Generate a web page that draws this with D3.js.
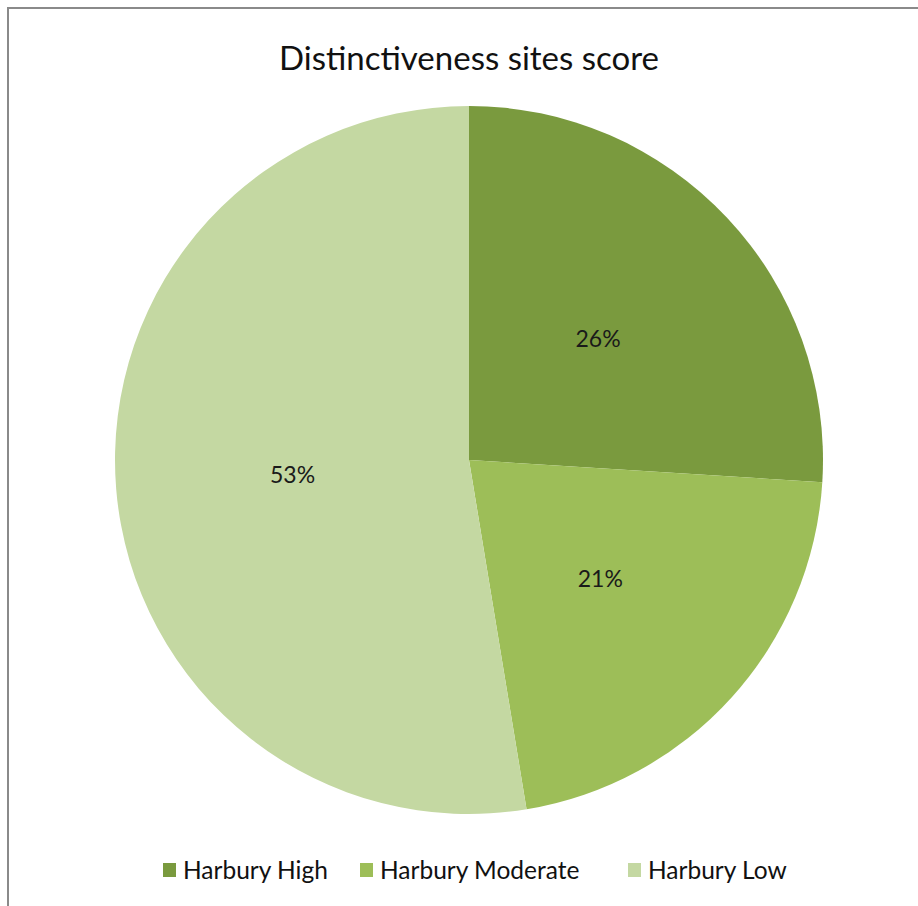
<!DOCTYPE html>
<html>
  <head>
    <meta charset="UTF-8">
    <title>Distinctiveness sites score</title>
    <style>
      * { margin: 0; padding: 0; overflow: hidden; }
      body { background: #fff; }
    </style>
    <script src="https://d3js.org/d3.v7.min.js"></script>
  </head>
  <body>
    <script type="text/javascript">
      // data
      const categories = ["Harbury High", "Harbury Moderate", "Harbury Low"];
      const values = [26.0, 21.4, 52.6];
      const colors = ["#7A9A3E", "#9DBE58", "#C4D8A2"];

      const WIDTH = 918;
      const HEIGHT = 906;
      const CX = 469, CY = 460, RADIUS = 354;
      const FONT = "Lato, 'Open Sans', sans-serif";

      const svg = d3.select("body").append("svg")
        .attr("width", WIDTH)
        .attr("height", HEIGHT);

      // chart border (only top and left visible in the crop)
      svg.append("rect")
        .attr("x", 8).attr("y", 8)
        .attr("width", WIDTH).attr("height", HEIGHT)
        .attr("fill", "#fff")
        .attr("stroke", "#8a8a8a")
        .attr("stroke-width", 2);

      svg.append("text")
        .attr("x", 469).attr("y", 70)
        .attr("text-anchor", "middle")
        .attr("font-family", FONT)
        .attr("font-size", 33)
        .attr("fill", "#111")
        .text("Distinctiveness sites score");

      const dataSet = categories.map((c, i) => ({ name: c, value: values[i] }));
      const total = d3.sum(values);

      const pie = d3.pie().value(d => d.value).sort(null);
      const arc = d3.arc().innerRadius(0).outerRadius(RADIUS);
      const labelArc = d3.arc().innerRadius(RADIUS * 0.5).outerRadius(RADIUS * 0.5);

      const g = svg.append("g").attr("transform", `translate(${CX},${CY})`);
      const slices = g.selectAll(".pie").data(pie(dataSet)).enter()
        .append("g").attr("class", "pie");

      slices.append("path")
        .attr("d", arc)
        .attr("fill", (d, i) => colors[i]);

      slices.append("text")
        .attr("transform", d => `translate(${labelArc.centroid(d)})`)
        .attr("dy", "0.35em")
        .attr("text-anchor", "middle")
        .attr("font-family", FONT)
        .attr("font-size", 23)
        .attr("fill", "#1a1a1a")
        .text(d => Math.round(d.data.value / total * 100) + "%");

      // legend
      const legendX = [163, 360, 628];
      const legend = svg.append("g").selectAll("g").data(categories).enter()
        .append("g")
        .attr("transform", (d, i) => `translate(${legendX[i]},870)`);
      legend.append("rect")
        .attr("x", 0).attr("y", -7)
        .attr("width", 13).attr("height", 14)
        .attr("fill", (d, i) => colors[i]);
      legend.append("text")
        .attr("x", 20).attr("dy", "0.35em")
        .attr("font-family", FONT)
        .attr("font-size", 24.5)
        .attr("fill", "#111")
        .text(d => d);
    </script>
  </body>
</html>
